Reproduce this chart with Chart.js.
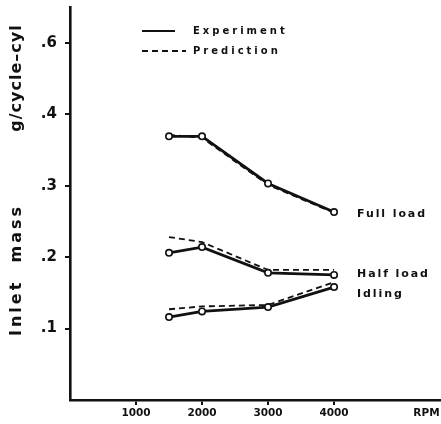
<!DOCTYPE html>
<html>
<head>
<meta charset="utf-8">
<script src="https://cdn.jsdelivr.net/npm/chart.js@4/dist/chart.umd.min.js"></script>
<style>
  html,body{margin:0;padding:0;background:#fff;overflow:hidden;}
  #wrap{width:441px;height:424px;position:relative;overflow:hidden;}
  canvas{display:block;}
</style>
</head>
<body>
<div id="wrap"><canvas id="c"></canvas></div>
<script>
// engine speed (RPM)
const rpm = [1500, 2000, 3000, 4000];

// inlet mass, g/cycle-cyl
const fullExp  = [0.369, 0.369, 0.303, 0.263];
const fullPred = [0.371, 0.367, 0.301, 0.262];
const halfExp  = [0.206, 0.214, 0.178, 0.175];
const halfPred = [0.228, 0.221, 0.182, 0.182];
const idleExp  = [0.116, 0.124, 0.130, 0.158];
const idlePred = [0.127, 0.131, 0.133, 0.165];

const seriesNames = ['Full load', 'Half load', 'Idling'];
const legendNames = ['Experiment', 'Prediction'];

const xTicks = [1000, 2000, 3000, 4000];
const xUnit = 'RPM', xUnitAt = 5400;
const yTicks = [0.1, 0.2, 0.3, 0.4, 0.5];
const yTickLabels = ['.1', '.2', '.3', '.4', '.6'];
const yTitle = ['Inlet  mass', 'g/cycle\u2013cyl'];

const INK = '#111';
const pts = vals => vals.map((v, i) => ({x: rpm[i], y: v}));

function expSet(vals, name){
  return { label: name, data: pts(vals), borderColor: INK, borderWidth: 2.8,
    pointRadius: 3.2, pointBackgroundColor: '#fff', pointBorderColor: INK,
    pointBorderWidth: 1.6, tension: 0, order: 1 };
}
function predSet(vals, name){
  return { label: name, data: pts(vals), borderColor: INK, borderWidth: 1.8,
    borderDash: [6, 4], pointRadius: 0, tension: 0, order: 2 };
}

// text + legend drawn on top
const annot = {
  id: 'annot',
  afterDraw(chart){
    const {ctx} = chart, xs = chart.scales.x, ys = chart.scales.y;
    ctx.save();
    ctx.fillStyle = INK; ctx.strokeStyle = INK;

    // legend
    ctx.lineWidth = 2;
    ctx.beginPath(); ctx.moveTo(142, 31); ctx.lineTo(175, 31); ctx.stroke();
    ctx.setLineDash([6, 4]);
    ctx.beginPath(); ctx.moveTo(142, 51); ctx.lineTo(186, 51); ctx.stroke();
    ctx.setLineDash([]);
    ctx.font = 'bold 10px "DejaVu Sans"';
    ctx.letterSpacing = '3px';
    ctx.textBaseline = 'middle'; ctx.textAlign = 'left';
    ctx.fillText(legendNames[0], 193, 31);
    ctx.fillText(legendNames[1], 193, 51);

    // series labels
    ctx.font = 'bold 11px "DejaVu Sans"';
    ctx.letterSpacing = '1.9px';
    const lx = xs.getPixelForValue(rpm[3]) + 23;
    ctx.fillText(seriesNames[0], lx, ys.getPixelForValue(fullExp[3]) + 2);
    ctx.fillText(seriesNames[1], lx, ys.getPixelForValue(halfExp[3]) - 1);
    ctx.fillText(seriesNames[2], lx, ys.getPixelForValue(idleExp[3]) + 7);

    // y title
    ctx.font = 'bold 16px "DejaVu Sans"';
    ctx.textAlign = 'center';
    ctx.translate(17, 0);
    ctx.rotate(-Math.PI / 2);
    ctx.letterSpacing = '3px';
    ctx.fillText(yTitle[0], -270, 0);
    ctx.letterSpacing = '1px';
    ctx.fillText(yTitle[1], -78, 0);
    ctx.restore();
  }
};

new Chart(document.getElementById('c'), {
  type: 'line',
  data: { datasets: [
    expSet(fullExp, 'Full load'), predSet(fullPred, 'Full load pred'),
    expSet(halfExp, 'Half load'), predSet(halfPred, 'Half load pred'),
    expSet(idleExp, 'Idling'), predSet(idlePred, 'Idling pred')
  ]},
  options: {
    responsive: true, maintainAspectRatio: false, animation: false,
    layout: { autoPadding: false, padding: { top: 7, right: 0, left: 0, bottom: 0 } },
    plugins: { legend: { display: false }, tooltip: { enabled: false } },
    scales: {
      x: {
        type: 'linear', min: 0, max: 5620,
        afterBuildTicks: s => { s.ticks = xTicks.concat([xUnitAt]).map(v => ({value: v})); },
        afterFit: s => { s.height = 24; s.paddingRight = 0; s.paddingLeft = 0; },
        border: { color: INK, width: 2.6 },
        grid: { drawOnChartArea: false, tickLength: 5, lineWidth: 2,
          tickColor: c => (c.tick && c.tick.value === xUnitAt) ? 'rgba(0,0,0,0)' : INK },
        ticks: { color: INK, padding: 2, maxRotation: 0, autoSkip: false,
          font: { family: 'DejaVu Sans', weight: 'bold', size: 10.5 },
          callback: v => v === xUnitAt ? xUnit : String(v) }
      },
      y: {
        min: 0, max: 0.55,
        afterBuildTicks: s => { s.ticks = yTicks.map(v => ({value: v})); },
        afterFit: s => { s.width = 70; s.paddingTop = 0; s.paddingBottom = 0; },
        border: { color: INK, width: 2.6 },
        grid: { drawOnChartArea: false, tickLength: 5, lineWidth: 2, tickColor: INK },
        ticks: { color: INK, padding: 8, autoSkip: false,
          font: { family: 'DejaVu Sans', weight: 'bold', size: 15 },
          callback: (v, i) => yTickLabels[yTicks.findIndex(t => Math.abs(t - v) < 1e-9)] }
      }
    }
  },
  plugins: [annot]
});
</script>
</body>
</html>
